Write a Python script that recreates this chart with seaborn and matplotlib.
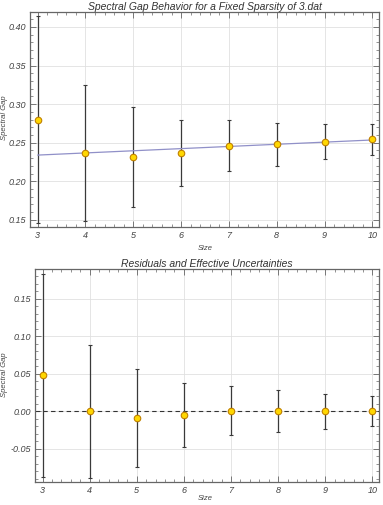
import numpy as np
import pandas as pd
import matplotlib
matplotlib.use("Agg")
import matplotlib.pyplot as plt
import seaborn as sns
from matplotlib.ticker import MultipleLocator, FormatStrFormatter

sizes = [3, 4, 5, 6, 7, 8, 9, 10]
gap_values = [0.280, 0.2365, 0.2313, 0.237, 0.246, 0.248, 0.2513, 0.2543]
gap_errors = [0.134, 0.088, 0.065, 0.043, 0.033, 0.028, 0.023, 0.020]
fit_sizes = [3, 10]
fit_values = [0.2339, 0.2535]
residual_values = [0.048, 0.0, -0.009, -0.005, 0.001, 0.0, 0.0, 0.0]
residual_errors = [0.135, 0.088, 0.065, 0.043, 0.033, 0.028, 0.023, 0.020]

title_top = "Spectral Gap Behavior for a Fixed Sparsity of 3.dat"
title_bottom = "Residuals and Effective Uncertainties"
xlabel = "Size"
ylabel = "Spectral Gap"

sns.set_theme(style="white")
plt.rcParams['font.family'] = ['Liberation Sans', 'DejaVu Sans']

df = pd.DataFrame({"Size": sizes, "Gap": gap_values, "Err": gap_errors,
                   "Res": residual_values, "ResErr": residual_errors})
fit_df = pd.DataFrame({"Size": fit_sizes, "Fit": fit_values})

fig = plt.figure(figsize=(3.83, 5.05), dpi=100)
ax1 = fig.add_axes([0.079, 0.551, 0.9106, 0.4246])
ax2 = fig.add_axes([0.092, 0.0455, 0.8976, 0.4212])

marker_face = "#FFD700"
marker_edge = "#C08000"
err_color = "#3a3a3a"
frame_color = "#666666"
text_color = "#444444"


def style_axes(ax, ymajor, yminor):
    ax.set_xlim(2.845, 10.14)
    ax.xaxis.set_major_locator(MultipleLocator(1))
    ax.xaxis.set_minor_locator(MultipleLocator(0.2))
    ax.yaxis.set_major_locator(MultipleLocator(ymajor))
    ax.yaxis.set_minor_locator(MultipleLocator(yminor))
    ax.yaxis.set_major_formatter(FormatStrFormatter("%.2f"))
    ax.grid(True, which="major", color="#e0e0e0", linewidth=0.6)
    ax.set_axisbelow(True)
    for s in ax.spines.values():
        s.set_color(frame_color)
        s.set_linewidth(0.9)
    ax.tick_params(which="both", direction="in", top=True, right=True,
                   bottom=True, left=True, color=frame_color,
                   labelsize=6.5, labelcolor=text_color, pad=3)
    ax.tick_params(which="major", length=4, width=0.6)
    ax.tick_params(which="minor", length=2, width=0.5)
    for lab in ax.get_xticklabels() + ax.get_yticklabels():
        lab.set_fontstyle("italic")
    ax.set_xlabel("")
    ax.set_ylabel("")


# Top panel
ax1.errorbar(df["Size"], df["Gap"], yerr=df["Err"], fmt="none", ecolor=err_color,
             elinewidth=0.9, capsize=1.5, capthick=0.8, zorder=2)
sns.lineplot(data=fit_df, x="Size", y="Fit", ax=ax1, color="#9090c8", linewidth=0.9, zorder=3)
sns.scatterplot(data=df, x="Size", y="Gap", ax=ax1, s=22, color=marker_face,
                edgecolor=marker_edge, linewidth=0.8, zorder=4)
ax1.set_ylim(0.141, 0.419)
style_axes(ax1, 0.05, 0.01)
ax1.set_title(title_top, fontsize=7.5, fontstyle="italic", color="#333333", pad=1.5)

# Bottom panel
ax2.axhline(0, color="#333333", linestyle=(0, (4, 3)), linewidth=0.8, zorder=1.5)
ax2.errorbar(df["Size"], df["Res"], yerr=df["ResErr"], fmt="none", ecolor=err_color,
             elinewidth=0.9, capsize=1.5, capthick=0.8, zorder=2)
sns.scatterplot(data=df, x="Size", y="Res", ax=ax2, s=22, color=marker_face,
                edgecolor=marker_edge, linewidth=0.8, zorder=4)
ax2.set_ylim(-0.094, 0.189)
style_axes(ax2, 0.05, 0.01)
ax2.set_title(title_bottom, fontsize=7.5, fontstyle="italic", color="#333333", pad=1.5)

# Axis labels (placed in figure coordinates to mimic reference)
lab_kw = dict(fontsize=5.5, fontstyle="italic", color=text_color, ha="center", va="center")
fig.text(205 / 383, 1 - 249 / 505, xlabel, **lab_kw)
fig.text(205 / 383, 1 - 498 / 505, xlabel, **lab_kw)
fig.text(5 / 383, 1 - 118 / 505, ylabel, rotation=90, **lab_kw)
fig.text(5 / 383, 1 - 375 / 505, ylabel, rotation=90, **lab_kw)

fig.savefig("out.png", dpi=100)
